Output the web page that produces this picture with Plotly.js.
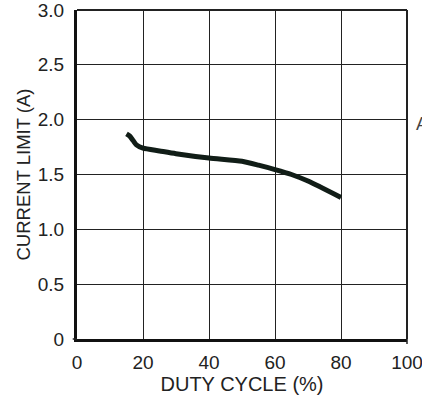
<!DOCTYPE html>
<html>
<head>
<meta charset="utf-8">
<script src="https://cdn.plot.ly/plotly-3.0.1.min.js"></script>
<style>html,body{margin:0;padding:0;background:#fff;}#chart{width:422px;height:402px;}</style>
</head>
<body>
<div id="chart"></div>
<script>
// Data
const dutyCycle = [15, 16, 17, 18, 20, 25, 30, 40, 50, 55, 60, 65, 70, 80];
const currentLimit = [1.87, 1.85, 1.81, 1.77, 1.74, 1.715, 1.69, 1.65, 1.62, 1.585, 1.545, 1.50, 1.44, 1.29];
const xTickVals = [0, 20, 40, 60, 80, 100];
const xTickText = ["0", "20", "40", "60", "80", "100"];
const yTickVals = [0, 0.5, 1.0, 1.5, 2.0, 2.5, 3.0];
const yTickText = ["0", "0.5", "1.0", "1.5", "2.0", "2.5", "3.0"];

const font = "Liberation Sans, Arial, sans-serif";
const annotations = [{xref: "paper", yref: "paper", x: 1.02, y: 0.69, xanchor: "left", text: "A", showarrow: false,
  font: {family: font, size: 18, color: "#444"}}];

const trace = {
  x: dutyCycle, y: currentLimit, type: "scatter", mode: "lines",
  line: {color: "#111d17", width: 5, shape: "spline", smoothing: 0.6},
  hoverinfo: "skip"
};

const layout = {
  width: 422, height: 402,
  margin: {l: 77, r: 15, t: 10, b: 63},
  paper_bgcolor: "#fff", plot_bgcolor: "#fff",
  showlegend: false,
  font: {family: font, color: "#222", size: 19},
  xaxis: {
    range: [0, 100], tickvals: xTickVals, ticktext: xTickText, showgrid: true,
    gridcolor: "#222", gridwidth: 1, zeroline: false, showline: true, linecolor: "#111", linewidth: 3,
    ticks: "", ticklabelstandoff: 4, ticklabeloverflow: "allow", tickfont: {size: 19, color: "#222"},
    title: {text: "DUTY CYCLE (%)", font: {size: 20, color: "#222"}, standoff: 6}, fixedrange: true
  },
  yaxis: {
    range: [0, 3], tickvals: yTickVals, ticktext: yTickText, showgrid: true,
    gridcolor: "#222", gridwidth: 1, zeroline: false, showline: true, linecolor: "#111", linewidth: 3,
    ticks: "", ticklabelstandoff: 6, ticklabeloverflow: "allow", tickfont: {size: 19, color: "#222"},
    title: {text: "CURRENT LIMIT (A)", font: {size: 18.5, color: "#222"}, standoff: 3}, fixedrange: true
  },
  shapes: [
    {type: "line", xref: "paper", yref: "paper", x0: 0, x1: 1, y0: 1, y1: 1, line: {color: "#222", width: 2}},
    {type: "line", xref: "paper", yref: "paper", x0: 1, x1: 1, y0: 0, y1: 1, line: {color: "#222", width: 2}},
    {type: "line", xref: "paper", yref: "paper", x0: -0.013, x1: 0, y0: 0, y1: 0, line: {color: "#222", width: 1.5}},
    {type: "line", xref: "paper", yref: "paper", x0: 1, x1: 1, y0: 0, y1: -0.015, line: {color: "#222", width: 1.5}}
  ],
  annotations: annotations
};

Plotly.newPlot("chart", [trace], layout, {displayModeBar: false, staticPlot: true});
</script>
</body>
</html>
